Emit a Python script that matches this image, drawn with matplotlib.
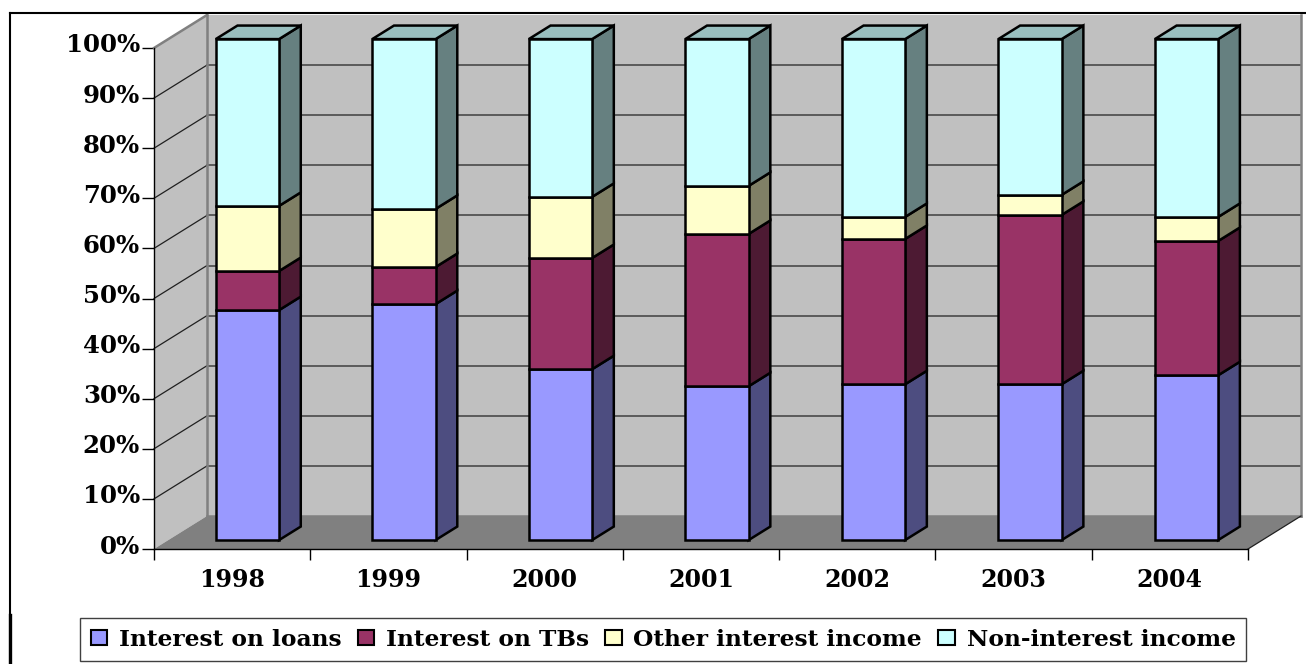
import matplotlib
matplotlib.use("Agg")
import matplotlib.pyplot as plt
from matplotlib.patches import Polygon, Patch
from matplotlib.lines import Line2D
from matplotlib.transforms import ScaledTranslation

# Share of total income per year, in percent
years = ["1998", "1999", "2000", "2001", "2002", "2003", "2004"]
interest_on_loans = [45.9, 47.1, 34.1, 30.7, 31.1, 31.1, 32.9]
interest_on_tbs = [7.8, 7.4, 22.2, 30.4, 29.0, 33.8, 26.8]
other_interest = [13.0, 11.6, 12.2, 9.6, 4.4, 4.0, 4.8]
non_interest = [33.3, 33.9, 31.5, 29.3, 35.5, 31.1, 35.5]

series = [
    ("Interest on loans", interest_on_loans, "#9999FF", "#4D4D80"),
    ("Interest on TBs", interest_on_tbs, "#993366", "#4D1A33"),
    ("Other interest income", other_interest, "#FFFFCC", "#808066"),
    ("Non-interest income", non_interest, "#CCFFFF", "#668080"),
]
top_face = "#99BFBF"

W, H = 1306, 664
FONT = "DejaVu Serif"

fig = plt.figure(figsize=(W / 100, H / 100), dpi=100, facecolor="white")
ax = fig.add_axes([154 / W, 1 - 549 / H, 1094 / W, 501 / H])
n = len(years)
ax.set_xlim(0, n)
ax.set_ylim(0, 100)
ax.patch.set_visible(False)

# Oblique projection: a depth of 1 shifts a point to the back wall
DX = 53 / (1094 / n)
DY = 33 / 5.01


def proj(x, y, d):
    return (x + d * DX, y + d * DY)


def face(points, color, z, edge="none", lw=0):
    ax.add_patch(Polygon(points, closed=True, facecolor=color, edgecolor=edge,
                         linewidth=lw, zorder=z, clip_on=False, joinstyle="miter"))


# Walls and floor
face([proj(0, 0, 0), proj(0, 100, 0), proj(0, 100, 1), proj(0, 0, 1)], "#C0C0C0", 1)
face([proj(0, 0, 1), proj(0, 100, 1), proj(n, 100, 1), proj(n, 0, 1)], "#C0C0C0", 1)
face([proj(0, 0, 0), proj(0, 0, 1), proj(n, 0, 1), proj(n, 0, 0)], "#808080", 1.2)

for y in range(10, 100, 10):
    x0, y0 = proj(0, y, 0)
    x1, y1 = proj(0, y, 1)
    x2, y2 = proj(n, y, 1)
    ax.plot([x0, x1], [y0, y1], color="#202020", lw=0.9, zorder=1.5, clip_on=False)
    ax.plot([x1, x2], [y1, y2], color="#404040", lw=1.1, zorder=1.5, clip_on=False)

wall_edges = [(proj(0, 0, 1), proj(0, 100, 1)),
              (proj(n, 0, 1), proj(n, 100, 1)),
              (proj(0, 0, 1), proj(n, 0, 1)),
              (proj(0, 100, 0), proj(0, 100, 1))]
for a, b in wall_edges:
    ax.plot([a[0], b[0]], [a[1], b[1]], color="#808080", lw=1.8, zorder=1.6, clip_on=False)
a, b = proj(n, 0, 0), proj(n, 0, 1)
ax.plot([a[0], b[0]], [a[1], b[1]], color="#202020", lw=0.9, zorder=1.6, clip_on=False)

# Stacked 3-D columns
BAR_W = 0.405
D0, D1 = 0.27, 0.68
EDGE = 1.8
for i in range(n):
    xl = i + 0.5 - BAR_W / 2 + 0.006 + 0.0015 * i
    xr = xl + BAR_W
    base = 0.0
    z = 3 + i
    for _, values, front, side in series:
        top = base + values[i]
        fx, fb = proj(xl, base, D0)
        fx2, ft = proj(xr, top, D0)
        face([proj(xr, base, D0), proj(xr, top, D0), proj(xr, top, D1), proj(xr, base, D1)],
             side, z, "black", EDGE)
        ax.bar(fx, ft - fb, width=BAR_W, bottom=fb, align="edge", color=front,
               edgecolor="black", linewidth=EDGE, zorder=z + 0.1, clip_on=False)
        base = top
    face([proj(xl, base, D0), proj(xr, base, D0), proj(xr, base, D1), proj(xl, base, D1)],
         top_face, z, "black", EDGE)

# Axes, ticks and labels
for name in ("top", "right"):
    ax.spines[name].set_visible(False)
for name in ("left", "bottom"):
    ax.spines[name].set_color("black")
    ax.spines[name].set_linewidth(1.0)
    ax.spines[name].set_zorder(2)

ax.set_yticks(range(0, 101, 10))
ax.set_yticklabels([f"{v}%" for v in range(0, 101, 10)], fontfamily=FONT,
                   fontweight="bold", fontsize=17.6)
ax.tick_params(axis="y", length=9, width=1.0, pad=1, color="black")
nudge = ScaledTranslation(0, 5 / 100, fig.dpi_scale_trans)
for lab in ax.get_yticklabels():
    lab.set_transform(lab.get_transform() + nudge)

ax.set_xticks(range(n + 1))
ax.set_xticklabels([""] * (n + 1))
ax.tick_params(axis="x", which="major", length=8, width=1.0, color="black")
ax.set_xticks([i + 0.5 for i in range(n)], minor=True)
ax.set_xticklabels(years, minor=True, fontfamily=FONT, fontweight="bold", fontsize=17)
ax.tick_params(axis="x", which="minor", length=0, pad=14)

# Legend across the bottom
handles = [Patch(facecolor=c, edgecolor="black", linewidth=1.5, label=name)
           for name, _, c, _ in series]
leg = fig.legend(handles=handles, loc="lower left", ncol=4, mode="expand",
                 bbox_to_anchor=(80 / W, 3 / H, 1166 / W, 46 / H),
                 prop={"family": FONT, "weight": "bold", "size": 16.8},
                 frameon=True, fancybox=False, framealpha=1, edgecolor="#404040",
                 handlelength=0.72, handleheight=0.65, handletextpad=0.5,
                 columnspacing=0.4, borderaxespad=0, borderpad=0.45)
leg.get_frame().set_linewidth(1.0)

# Outer chart frame, heavier along its lower left stretch
fig.add_artist(Line2D([10 / W, 10 / W], [0, 1 - 13 / H], color="black", lw=1.5))
fig.add_artist(Line2D([10 / W, 10 / W], [0, 1 - 615 / H], color="black", lw=2.4))
fig.add_artist(Line2D([10 / W, 1], [1 - 13 / H, 1 - 13 / H], color="black", lw=1.5))

fig.savefig("out.png", dpi=100, facecolor="white")
